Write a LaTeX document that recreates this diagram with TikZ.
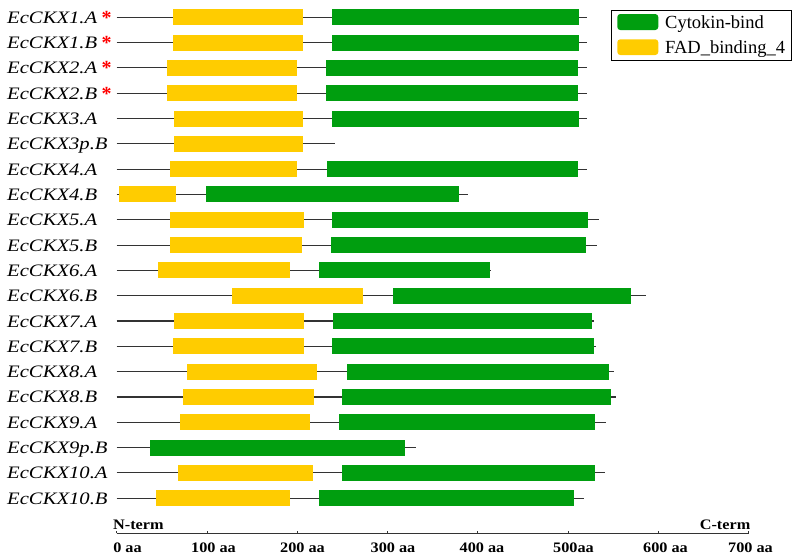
\documentclass[tikz,border=0pt]{standalone}
\usepackage{fontspec}
\setmainfont{Liberation Serif}
\newfontfamily\genefont[FakeStretch=1.18]{Liberation Serif}
\newfontfamily\axisfont[FakeStretch=1.12]{Liberation Serif}

\definecolor{cytgreen}{RGB}{0,158,15}
\definecolor{fadyellow}{RGB}{255,204,0}

\tikzset{
	backbone/.style={line width=1.1pt, black!80},
	cytbox/.style={fill=cytgreen},
	fadbox/.style={fill=fadyellow},
	genelabel/.style={anchor=base west, inner sep=0pt, font=\genefont\itshape\fontsize{17.5}{20}\selectfont},
	redmark/.style={anchor=base, inner sep=0pt, text=red, font=\bfseries\fontsize{20}{22}\selectfont},
	ticklabel/.style={anchor=base, inner sep=0pt, font=\axisfont\bfseries\fontsize{14.5}{16}\selectfont},
	legendtext/.style={anchor=base west, inner sep=0pt, font=\fontsize{18.5}{20}\selectfont},
}

\begin{document}
\begin{tikzpicture}[x=1pt, y=-1pt]

	\useasboundingbox (0,0) rectangle (796,558);

	%% gene rows: name / mark / length / FAD start / FAD end / Cytokin start / Cytokin end (aa)
	\foreach [count=\i] \name/\mark/\len/\ya/\yb/\ga/\gb in {
		EcCKX1.A/1/521/62/206/238/512,
		EcCKX1.B/1/521/62/206/238/512,
		EcCKX2.A/1/521/56/200/232/511,
		EcCKX2.B/1/521/56/200/232/511,
		EcCKX3.A/0/521/63/206/238/512,
		EcCKX3p.B/0/242/63/206/0/0,
		EcCKX4.A/0/521/59/200/233/511,
		EcCKX4.B/0/389/2/66/99/379,
		EcCKX5.A/0/534/59/207/239/522,
		EcCKX5.B/0/532/59/205/237/520,
		EcCKX6.A/0/414/46/192/224/413,
		EcCKX6.B/0/586/128/273/306/570,
		EcCKX7.A/0/529/63/207/240/526,
		EcCKX7.B/0/531/62/207/239/529,
		EcCKX8.A/0/551/78/222/255/545,
		EcCKX8.B/0/553/73/218/250/547,
		EcCKX9.A/0/542/70/214/246/530,
		EcCKX9p.B/0/332/0/0/37/319,
		EcCKX10.A/0/541/68/217/249/530,
		EcCKX10.B/0/518/44/192/224/506}
	{
		\pgfmathsetmacro\ry{17.3+(\i-1)*25.31}
		\node[genelabel] (gene\i) at (7,\ry+6) {\name};
		\ifnum\mark=1
			\node[redmark] (mark\i) at (106.5,\ry+7) {*};
		\fi
		\begin{scope}[xshift=116.7pt, xscale=0.9029]
			\draw[backbone] (0,\ry) -- (\len,\ry);
			\ifnum\yb>0
				\fill[fadbox] (\ya,\ry-8) rectangle (\yb,\ry+8);
			\fi
			\ifnum\gb>0
				\fill[cytbox] (\ga,\ry-8) rectangle (\gb,\ry+8);
			\fi
		\end{scope}
	}

	%% scale bar
	\draw[line width=1.3pt, black!80] (116.7,533.3) -- (748.7,533.3);
	\foreach \v/\t/\c in {0/0 aa/127.5, 100/100 aa/213.5, 200/200 aa/302.5, 300/300 aa/393,
		400/400 aa/482, 500/500aa/573.5, 600/600 aa/665.5, 700/700 aa/750.5}
	{
		\draw[line width=0.8pt, black!80] (116.7+0.9029*\v,533.3) -- ++(0,-2.5);
		\node[ticklabel] (tick\v) at (\c,552.7) {\t};
	}
	\node[ticklabel, anchor=base west] (nterm) at (113,529.5) {N-term};
	\node[ticklabel, anchor=base east] (cterm) at (750.5,529.5) {C-term};

	%% legend
	\draw[line width=0.8pt] (611.7,10) rectangle (791.7,60);
	\fill[cytgreen, rounded corners=3pt] (617.3,14) rectangle (658.3,30);
	\fill[fadyellow, rounded corners=3pt] (617.3,39.3) rectangle (658.3,55);
	\node[legendtext] (legcyt) at (665,28) {Cytokin-bind};
	\node[legendtext] (legfad) at (665,53) {FAD\_binding\_4};

\end{tikzpicture}
\end{document}
